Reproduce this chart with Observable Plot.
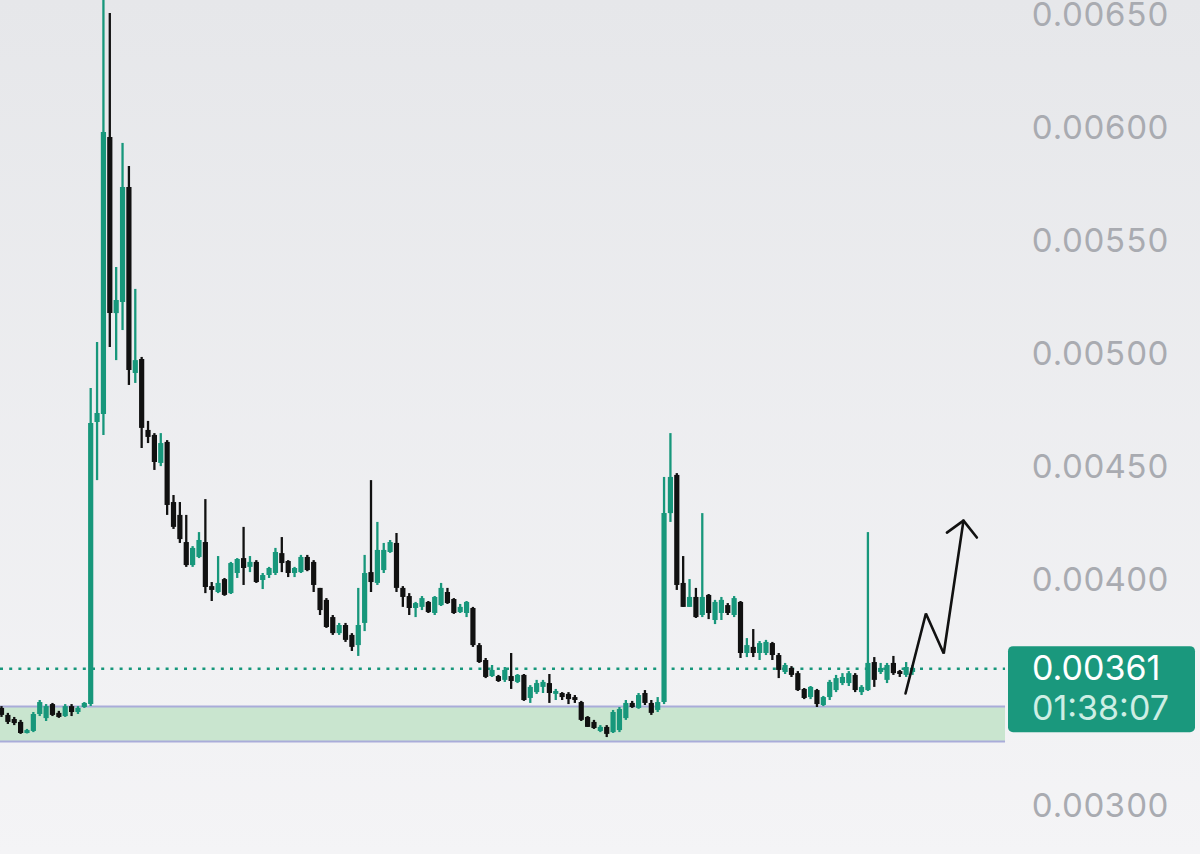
<!DOCTYPE html>
<html>
<head>
<meta charset="utf-8">
<script src="https://cdn.jsdelivr.net/npm/d3@7"></script>
<script src="https://cdn.jsdelivr.net/npm/@observablehq/plot@0.6"></script>
<style>
  html, body { margin: 0; padding: 0; }
  body { width: 1200px; height: 854px; overflow: hidden;
         background: linear-gradient(#e6e7ea, #f4f4f6); }
  #chart svg { display: block; background: transparent; }
</style>
</head>
<body>
<div id="chart"></div>
<script>
// ---- data (prices) ----
const open = [
0.003434,0.003403,0.003385,0.003372,0.003323,0.003332,0.003407,0.003389,0.003451,0.003412,
0.003398,0.003442,0.003416,0.003438,0.003451,0.004699,0.004735,0.005960,0.005181,0.005230,
0.005739,0.004916,0.004978,0.004664,0.004642,0.004518,0.004611,0.004345,0.004288,0.004168,
0.004066,0.004102,0.004168,0.003973,0.003947,0.004004,0.003942,0.004031,0.004097,0.004058,
0.004080,0.004000,0.004022,0.004031,0.004119,0.004084,0.004031,0.004035,0.004102,0.004080,
0.003965,0.003912,0.003836,0.003765,0.003801,0.003757,0.003712,0.003810,0.004035,0.003987,
0.004044,0.004124,0.004164,0.003965,0.003929,0.003876,0.003881,0.003903,0.003854,0.003889,
0.003947,0.003916,0.003858,0.003854,0.003876,0.003712,0.003646,0.003575,0.003575,0.003558,
0.003575,0.003549,0.003580,0.003478,0.003504,0.003527,0.003544,0.003496,0.003500,0.003496,
0.003482,0.003460,0.003394,0.003372,0.003332,0.003350,0.003327,0.003336,0.003389,0.003456,
0.003434,0.003500,0.003456,0.003425,0.003460,0.004296,0.004465,0.003987,0.003881,0.003925,
0.003845,0.003934,0.003823,0.003854,0.003889,0.003845,0.003903,0.003677,0.003704,0.003677,
0.003677,0.003721,0.003668,0.003593,0.003611,0.003588,0.003518,0.003482,0.003513,0.003447,
0.003482,0.003513,0.003544,0.003544,0.003580,0.003504,0.003513,0.003637,0.003593,0.003558,
0.003633,0.003597,0.003580,0.003593];
const close = [
0.003403,0.003372,0.003367,0.003323,0.003336,0.003407,0.003460,0.003442,0.003403,0.003394,
0.003442,0.003416,0.003434,0.003456,0.004695,0.004739,0.005982,0.005181,0.005239,0.005739,
0.004929,0.004973,0.004673,0.004633,0.004522,0.004606,0.004332,0.004235,0.004181,0.004066,
0.004142,0.004177,0.003969,0.003956,0.003987,0.003934,0.004075,0.004093,0.004053,0.004080,
0.003991,0.004022,0.004053,0.004124,0.004075,0.004031,0.004053,0.004102,0.004044,0.003978,
0.003867,0.003792,0.003765,0.003801,0.003735,0.003704,0.003801,0.004031,0.003991,0.004133,
0.004133,0.004168,0.003965,0.003925,0.003876,0.003898,0.003920,0.003858,0.003925,0.003965,
0.003898,0.003854,0.003881,0.003903,0.003712,0.003637,0.003571,0.003602,0.003553,0.003602,
0.003553,0.003580,0.003469,0.003527,0.003544,0.003549,0.003500,0.003509,0.003482,0.003473,
0.003469,0.003381,0.003350,0.003345,0.003350,0.003319,0.003416,0.003429,0.003456,0.003438,
0.003491,0.003456,0.003412,0.003460,0.004296,0.004456,0.003978,0.003881,0.003925,0.003836,
0.003925,0.003854,0.003903,0.003912,0.003854,0.003920,0.003677,0.003712,0.003677,0.003721,
0.003726,0.003668,0.003602,0.003624,0.003580,0.003513,0.003478,0.003527,0.003451,0.003482,
0.003549,0.003566,0.003571,0.003588,0.003513,0.003527,0.003633,0.003558,0.003611,0.003624,
0.003588,0.003584,0.003615,0.003611];
const high = [
0.003442,0.003412,0.003394,0.003381,0.003341,0.003416,0.003469,0.003451,0.003456,0.003421,
0.003451,0.003451,0.003442,0.003460,0.004850,0.005053,0.006600,0.006509,0.005385,0.005934,
0.005832,0.005288,0.004987,0.004704,0.004650,0.004650,0.004619,0.004376,0.004345,0.004288,
0.004150,0.004212,0.004358,0.003991,0.004106,0.004009,0.004080,0.004097,0.004235,0.004106,
0.004088,0.004031,0.004058,0.004142,0.004190,0.004088,0.004058,0.004111,0.004111,0.004088,
0.003965,0.003920,0.003845,0.003810,0.003810,0.003765,0.003965,0.004111,0.004442,0.004257,
0.004164,0.004177,0.004208,0.003973,0.003942,0.003903,0.003929,0.003907,0.003929,0.003987,
0.003965,0.003920,0.003894,0.003907,0.003881,0.003721,0.003655,0.003624,0.003580,0.003615,
0.003677,0.003584,0.003584,0.003535,0.003558,0.003558,0.003584,0.003518,0.003504,0.003504,
0.003491,0.003465,0.003398,0.003381,0.003358,0.003358,0.003425,0.003438,0.003469,0.003465,
0.003500,0.003513,0.003469,0.003482,0.004456,0.004650,0.004473,0.004106,0.004004,0.003965,
0.004296,0.003938,0.003912,0.003925,0.003898,0.003929,0.003907,0.003743,0.003783,0.003730,
0.003735,0.003726,0.003677,0.003633,0.003619,0.003597,0.003522,0.003531,0.003518,0.003487,
0.003558,0.003580,0.003588,0.003597,0.003588,0.003535,0.004212,0.003659,0.003633,0.003633,
0.003664,0.003602,0.003637,0.003624];
const low = [
0.003394,0.003363,0.003358,0.003319,0.003321,0.003327,0.003398,0.003376,0.003398,0.003390,
0.003394,0.003398,0.003407,0.003434,0.003442,0.004442,0.004642,0.005031,0.004973,0.005106,
0.004863,0.004872,0.004584,0.004606,0.004487,0.004504,0.004288,0.004226,0.004164,0.004058,
0.004058,0.004097,0.003942,0.003907,0.003942,0.003930,0.003938,0.004009,0.003978,0.004035,
0.003987,0.003960,0.004009,0.004022,0.004035,0.004013,0.004013,0.004031,0.004039,0.003947,
0.003845,0.003788,0.003757,0.003757,0.003726,0.003686,0.003664,0.003774,0.003947,0.003978,
0.004031,0.004120,0.003947,0.003881,0.003845,0.003836,0.003867,0.003854,0.003845,0.003885,
0.003894,0.003850,0.003854,0.003836,0.003704,0.003633,0.003566,0.003571,0.003549,0.003549,
0.003518,0.003544,0.003465,0.003456,0.003496,0.003500,0.003456,0.003469,0.003469,0.003451,
0.003456,0.003376,0.003350,0.003341,0.003327,0.003305,0.003323,0.003327,0.003381,0.003434,
0.003430,0.003447,0.003403,0.003416,0.003451,0.004257,0.003956,0.003881,0.003881,0.003832,
0.003836,0.003827,0.003805,0.003823,0.003845,0.003836,0.003655,0.003659,0.003659,0.003646,
0.003668,0.003646,0.003566,0.003584,0.003571,0.003509,0.003473,0.003473,0.003438,0.003442,
0.003469,0.003504,0.003535,0.003531,0.003504,0.003491,0.003509,0.003527,0.003584,0.003544,
0.003580,0.003571,0.003571,0.003580];

// 0.00350 is hidden behind the price label in the picture
const yTicks = [0.00300, 0.00400, 0.00450, 0.00500, 0.00550, 0.00600, 0.00650];
const lastPrice = 0.00361;
const countdown = "01:38:07";
const zoneLow = 0.003288, zoneHigh = 0.003442;
const zoneEnd = 157.6;             // zone / price line end (bar index)
// hand-drawn projection arrow (bar index, price)
const arrowPath = [
  {i: 141.9, p: 0.003500}, {i: 145.1, p: 0.003854},
  {i: 147.9, p: 0.003677}, {i: 151.0, p: 0.004265}];
const arrowHead = [
  {i: 148.4, p: 0.004212}, {i: 151.0, p: 0.004265}, {i: 153.1, p: 0.004190}];

// ---- table ----
const bars = open.map((o, i) => ({
  i, open: o, close: close[i], high: high[i], low: low[i], up: close[i] >= o
}));

const GREEN = "#17977b", BLACK = "#111111";
const xDomain = [-0.157, 161.52];

const chart = Plot.plot({
  width: 1200, height: 854,
  marginLeft: 0, marginRight: 170, marginTop: 0, marginBottom: 0,
  style: {fontFamily: "Inter, 'Noto Sans', sans-serif", fontSize: "33px", background: "transparent"},
  x: {type: "linear", domain: xDomain, axis: null},
  y: {domain: [0.0027876, 0.0065664], axis: null},
  marks: [
    Plot.rect([0], {x1: xDomain[0], x2: zoneEnd, y1: zoneLow, y2: zoneHigh, fill: "#c9e5cf"}),
    Plot.ruleY([zoneHigh, zoneLow], {x1: xDomain[0], x2: zoneEnd, stroke: "#a9acd9", strokeWidth: 2}),
    Plot.ruleY([lastPrice], {x1: xDomain[0], x2: zoneEnd, stroke: GREEN, strokeWidth: 2.5, strokeDasharray: "3,6.2"}),
    Plot.ruleX(bars, {x: "i", y1: "low", y2: "high", stroke: d => d.up ? GREEN : BLACK, strokeWidth: 2.3}),
    Plot.ruleX(bars, {x: "i", y1: "open", y2: "close", stroke: d => d.up ? GREEN : BLACK, strokeWidth: 5.2}),
    Plot.line(arrowPath, {x: "i", y: "p", stroke: "#111", strokeWidth: 2.6, strokeLinejoin: "miter"}),
    Plot.line(arrowHead, {x: "i", y: "p", stroke: "#111", strokeWidth: 2.6, strokeLinejoin: "miter"}),
    Plot.axisY(yTicks, {anchor: "right", tickSize: 0, tickPadding: 1, color: "#a9abb1",
      tickFormat: d3.format(".5f"), fontSize: 33, fill: "#a9abb1"})
  ]
});
document.getElementById("chart").append(chart);

// price label box anchored to the last price via the y scale
const yScale = chart.scale("y");
const py = yScale.apply(lastPrice);
const svg = d3.select(chart);
const g = svg.append("g").attr("text-anchor", "start").attr("font-family", "Inter, sans-serif");
g.append("rect").attr("x", 1008).attr("y", py - 22).attr("width", 187).attr("height", 86)
  .attr("rx", 5).attr("fill", "#1a987d");
g.append("text").attr("x", 1032).attr("y", py).attr("dy", "0.36em").attr("text-anchor", "start")
  .attr("fill", "#ffffff").attr("font-size", 34)
  .text(d3.format(".5f")(lastPrice));
g.append("text").attr("x", 1032).attr("y", py + 40).attr("dy", "0.36em").attr("text-anchor", "start")
  .attr("fill", "#cdeee4").attr("font-size", 34)
  .text(countdown);
</script>
</body>
</html>
